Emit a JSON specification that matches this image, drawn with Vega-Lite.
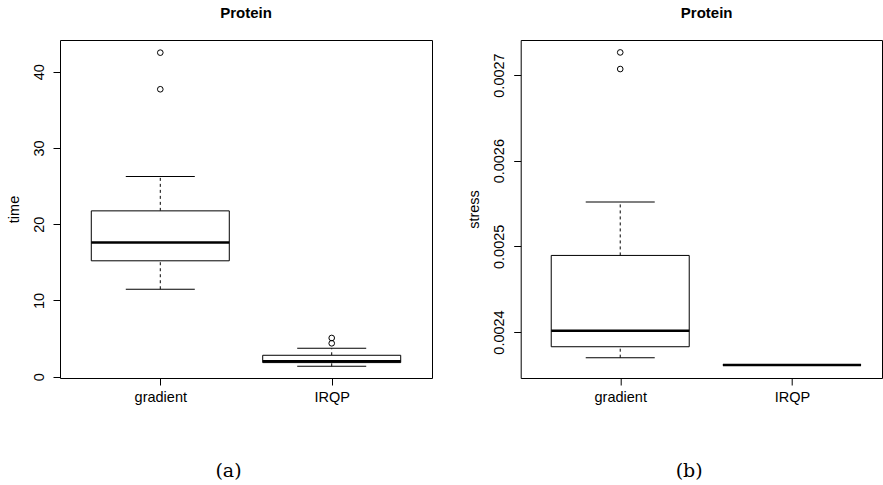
{
  "$schema": "https://vega.github.io/schema/vega-lite/v6.json",
  "padding": {"left": 5, "top": 5, "right": 0, "bottom": 0},
  "background": "white",
  "bounds": "flush",
  "spacing": 88.7,
  "datasets": {
    "time_stats": [
      {"method": "gradient", "lower": 11.47, "q1": 15.2, "median": 17.6, "q3": 21.75, "upper": 26.25},
      {"method": "IRQP", "lower": 1.36, "q1": 1.85, "median": 2.02, "q3": 2.81, "upper": 3.73}
    ],
    "time_out": [
      {"method": "gradient", "time": 42.5},
      {"method": "gradient", "time": 37.7},
      {"method": "IRQP", "time": 5.08},
      {"method": "IRQP", "time": 4.38}
    ],
    "stress_stats": [
      {"method": "gradient", "lower": 0.0023700, "q1": 0.0023828, "median": 0.0024015, "q3": 0.0024894, "upper": 0.0025517},
      {"method": "IRQP", "lower": 0.0023612, "q1": 0.0023613, "median": 0.0023615, "q3": 0.0023617, "upper": 0.0023619}
    ],
    "stress_out": [
      {"method": "gradient", "stress": 0.0027264},
      {"method": "gradient", "stress": 0.0027070}
    ]
  },
  "config": {
    "view": {"stroke": "black", "strokeWidth": 1},
    "font": "Liberation Sans",
    "title": {"font": "Liberation Sans", "fontSize": 15, "fontWeight": "bold", "color": "black", "offset": 19, "anchor": "middle"},
    "axis": {
      "grid": false,
      "domain": false,
      "tickColor": "black",
      "tickSize": 7,
      "labelFont": "Liberation Sans",
      "labelFontSize": 14.5,
      "labelColor": "black",
      "titleFont": "Liberation Sans",
      "titleFontSize": 14.5,
      "titleFontWeight": "normal",
      "titleColor": "black"
    },
    "axisY": {"labelAngle": -90, "labelAlign": "center", "labelBaseline": "middle", "labelPadding": 14, "titlePadding": 10},
    "axisX": {"labelAngle": 0, "labelPadding": 5, "titleFont": "DejaVu Serif", "titleFontSize": 19, "titleX": 168, "titleY": 92, "titleAlign": "center", "titleBaseline": "middle"}
  },
  "hconcat": [
    {
      "title": "Protein",
      "width": 372,
      "height": 338,
      "layer": [
        {
          "data": {"name": "time_stats"},
          "mark": {"type": "rule", "color": "black", "strokeDash": [3, 3], "strokeWidth": 1},
          "encoding": {
            "x": {"field": "method", "type": "nominal", "sort": ["gradient", "IRQP"], "scale": {"type": "point", "padding": 0.585, "align": 0.5}, "axis": {"title": "(a)"}},
            "y": {"field": "q3", "type": "quantitative", "scale": {"domain": [-0.17, 44.16], "nice": false, "zero": false}, "axis": {"title": "time", "values": [0, 10, 20, 30, 40]}},
            "y2": {"field": "upper"}
          }
        },
        {
          "data": {"name": "time_stats"},
          "mark": {"type": "rule", "color": "black", "strokeDash": [3, 3], "strokeWidth": 1},
          "encoding": {
            "x": {"field": "method", "type": "nominal", "sort": ["gradient", "IRQP"]},
            "y": {"field": "lower", "type": "quantitative"},
            "y2": {"field": "q1"}
          }
        },
        {
          "data": {"name": "time_stats"},
          "mark": {"type": "bar", "width": 138, "fill": "white", "stroke": "black", "strokeWidth": 1},
          "encoding": {
            "x": {"field": "method", "type": "nominal", "sort": ["gradient", "IRQP"]},
            "y": {"field": "q1", "type": "quantitative"},
            "y2": {"field": "q3"}
          }
        },
        {
          "data": {"name": "time_stats"},
          "mark": {"type": "tick", "size": 138, "thickness": 2.6, "color": "black", "opacity": 1},
          "encoding": {
            "x": {"field": "method", "type": "nominal", "sort": ["gradient", "IRQP"]},
            "y": {"field": "median", "type": "quantitative"}
          }
        },
        {
          "data": {"name": "time_stats"},
          "mark": {"type": "tick", "size": 69, "thickness": 1, "color": "black", "opacity": 1},
          "encoding": {
            "x": {"field": "method", "type": "nominal", "sort": ["gradient", "IRQP"]},
            "y": {"field": "upper", "type": "quantitative"}
          }
        },
        {
          "data": {"name": "time_stats"},
          "mark": {"type": "tick", "size": 69, "thickness": 1, "color": "black", "opacity": 1},
          "encoding": {
            "x": {"field": "method", "type": "nominal", "sort": ["gradient", "IRQP"]},
            "y": {"field": "lower", "type": "quantitative"}
          }
        },
        {
          "data": {"name": "time_out"},
          "mark": {"type": "point", "shape": "circle", "filled": false, "size": 32, "stroke": "black", "strokeWidth": 1, "opacity": 1},
          "encoding": {
            "x": {"field": "method", "type": "nominal", "sort": ["gradient", "IRQP"]},
            "y": {"field": "time", "type": "quantitative"}
          }
        }
      ]
    },
    {
      "title": {"text": "Protein", "dx": 5.3},
      "width": 361.3,
      "height": 338,
      "layer": [
        {
          "data": {"name": "stress_stats"},
          "mark": {"type": "rule", "color": "black", "strokeDash": [3, 3], "strokeWidth": 1},
          "encoding": {
            "x": {"field": "method", "type": "nominal", "sort": ["gradient", "IRQP"], "scale": {"type": "point", "padding": 0.552, "align": 0.525}, "axis": {"title": "(b)"}},
            "y": {"field": "q3", "type": "quantitative", "scale": {"domain": [0.0023463, 0.0027409], "nice": false, "zero": false}, "axis": {"title": "stress", "values": [0.0024, 0.0025, 0.0026, 0.0027], "format": ".4f"}},
            "y2": {"field": "upper"}
          }
        },
        {
          "data": {"name": "stress_stats"},
          "mark": {"type": "rule", "color": "black", "strokeDash": [3, 3], "strokeWidth": 1},
          "encoding": {
            "x": {"field": "method", "type": "nominal", "sort": ["gradient", "IRQP"]},
            "y": {"field": "lower", "type": "quantitative"},
            "y2": {"field": "q1"}
          }
        },
        {
          "data": {"name": "stress_stats"},
          "mark": {"type": "bar", "width": 138, "fill": "white", "stroke": "black", "strokeWidth": 1},
          "encoding": {
            "x": {"field": "method", "type": "nominal", "sort": ["gradient", "IRQP"]},
            "y": {"field": "q1", "type": "quantitative"},
            "y2": {"field": "q3"}
          }
        },
        {
          "data": {"name": "stress_stats"},
          "mark": {"type": "tick", "size": 138, "thickness": 2.6, "color": "black", "opacity": 1},
          "encoding": {
            "x": {"field": "method", "type": "nominal", "sort": ["gradient", "IRQP"]},
            "y": {"field": "median", "type": "quantitative"}
          }
        },
        {
          "data": {"name": "stress_stats"},
          "mark": {"type": "tick", "size": 69, "thickness": 1, "color": "black", "opacity": 1},
          "encoding": {
            "x": {"field": "method", "type": "nominal", "sort": ["gradient", "IRQP"]},
            "y": {"field": "upper", "type": "quantitative"}
          }
        },
        {
          "data": {"name": "stress_stats"},
          "mark": {"type": "tick", "size": 69, "thickness": 1, "color": "black", "opacity": 1},
          "encoding": {
            "x": {"field": "method", "type": "nominal", "sort": ["gradient", "IRQP"]},
            "y": {"field": "lower", "type": "quantitative"}
          }
        },
        {
          "data": {"name": "stress_out"},
          "mark": {"type": "point", "shape": "circle", "filled": false, "size": 32, "stroke": "black", "strokeWidth": 1, "opacity": 1},
          "encoding": {
            "x": {"field": "method", "type": "nominal", "sort": ["gradient", "IRQP"]},
            "y": {"field": "stress", "type": "quantitative"}
          }
        }
      ]
    }
  ]
}
